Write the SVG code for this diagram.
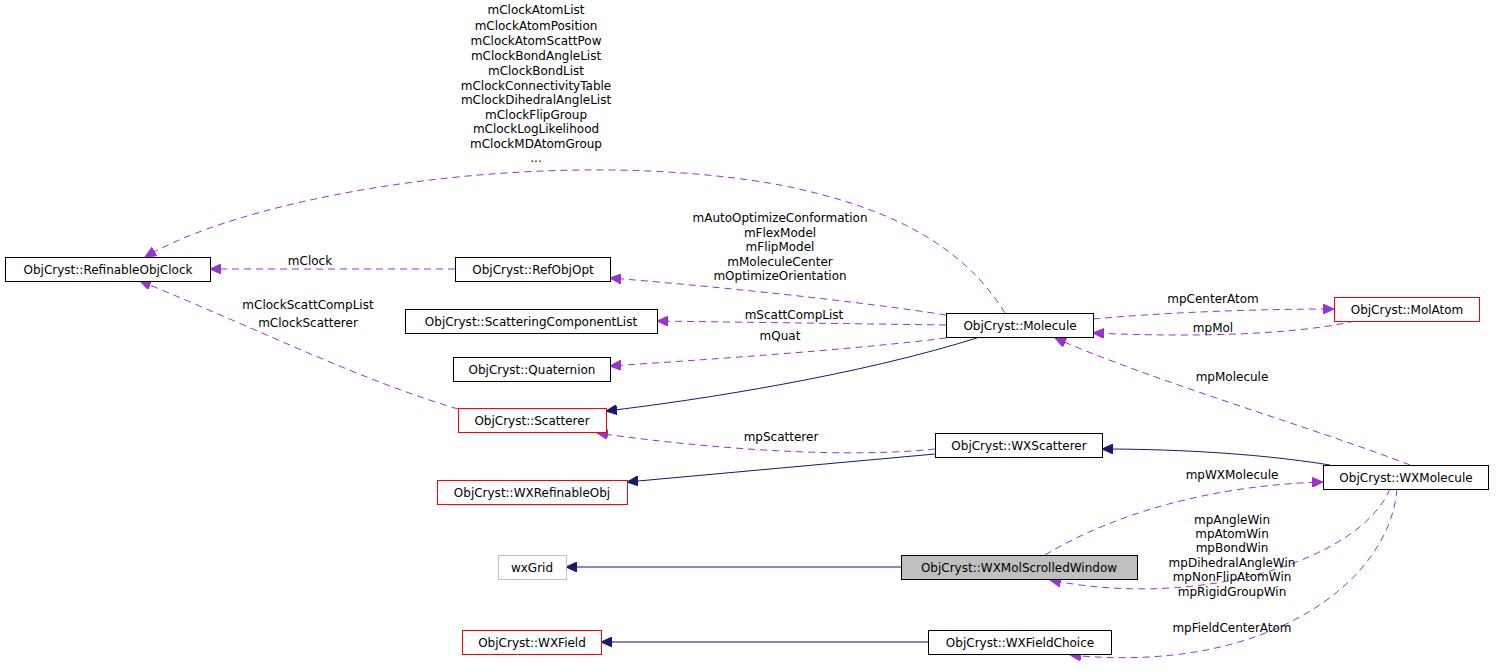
<svg xmlns="http://www.w3.org/2000/svg" width="1496" height="671" viewBox="0 0 1496 671">
<defs>
<style>
text{font-family:"DejaVu Sans",sans-serif;font-size:12px;fill:#000}
.n{fill:#fff;stroke:#000;stroke-width:1}
.r{fill:#fff;stroke:#f00;stroke-width:1}
.g{fill:#fff;stroke:#bfbfbf;stroke-width:1}
.s{fill:#bfbfbf;stroke:#000;stroke-width:1}
.d{fill:none;stroke:#9a32cd;stroke-dasharray:7,5;stroke-width:1}
.i{fill:none;stroke:#191970;stroke-width:1}
.l{text-anchor:middle}
</style>
<marker id="ap" markerWidth="12" markerHeight="10" refX="11" refY="5" orient="auto" markerUnits="userSpaceOnUse"><path d="M0,0 L11,5 L0,10 z" fill="#9a32cd" stroke="#9a32cd"/></marker>
<marker id="an" markerWidth="12" markerHeight="10" refX="11" refY="5" orient="auto" markerUnits="userSpaceOnUse"><path d="M0,0 L11,5 L0,10 z" fill="#191970" stroke="#191970"/></marker>
</defs>
<rect width="1496" height="671" fill="#fff"/>
<g id="connectors">
<path class="d" marker-end="url(#ap)" d="M1005,313 C960,240 880,205 780,185 C560,145 260,190 145,257"/>
<path class="d" marker-end="url(#ap)" d="M455,269 L210,269"/>
<path class="d" marker-end="url(#ap)" d="M458,409 C360,380 260,330 140,281"/>
<path class="d" marker-end="url(#ap)" d="M946,315 C850,300 700,285 610,278"/>
<path class="d" marker-end="url(#ap)" d="M946,325 L657,321"/>
<path class="d" marker-end="url(#ap)" d="M946,338 C850,350 700,360 610,366"/>
<path class="i" marker-end="url(#an)" d="M980,337 C860,375 700,400 606,411"/>
<path class="d" marker-end="url(#ap)" d="M1093,319 C1170,312 1260,309 1334,309"/>
<path class="d" marker-end="url(#ap)" d="M1355,321 C1280,338 1160,336 1093,333"/>
<path class="d" marker-end="url(#ap)" d="M1410,465 C1320,430 1150,380 1055,338"/>
<path class="d" marker-end="url(#ap)" d="M935,449 C830,460 680,445 597,433"/>
<path class="i" marker-end="url(#an)" d="M935,454 L627,482"/>
<path class="i" marker-end="url(#an)" d="M1330,465 C1250,452 1160,449 1102,449"/>
<path class="d" marker-end="url(#ap)" d="M1045,555 C1120,510 1220,485 1323,482"/>
<path class="d" marker-end="url(#ap)" d="M1390,489 C1360,560 1200,610 1050,580"/>
<path class="i" marker-end="url(#an)" d="M901,567 L566,567"/>
<path class="i" marker-end="url(#an)" d="M928,642 L601,642"/>
<path class="d" marker-end="url(#ap)" d="M1397,489 C1390,580 1270,675 1070,655"/>
</g>
<g id="labels">
<text class="l" x="536" y="14">mClockAtomList</text>
<text class="l" x="536" y="30">mClockAtomPosition</text>
<text class="l" x="536" y="45">mClockAtomScattPow</text>
<text class="l" x="536" y="60">mClockBondAngleList</text>
<text class="l" x="536" y="75">mClockBondList</text>
<text class="l" x="536" y="90">mClockConnectivityTable</text>
<text class="l" x="536" y="104">mClockDihedralAngleList</text>
<text class="l" x="536" y="119">mClockFlipGroup</text>
<text class="l" x="536" y="133">mClockLogLikelihood</text>
<text class="l" x="536" y="148">mClockMDAtomGroup</text>
<text class="l" x="536" y="162">...</text>
<text class="l" x="310" y="265">mClock</text>
<text class="l" x="308" y="309">mClockScattCompList</text>
<text class="l" x="308" y="327">mClockScatterer</text>
<text class="l" x="780" y="222">mAutoOptimizeConformation</text>
<text class="l" x="780" y="237">mFlexModel</text>
<text class="l" x="780" y="251">mFlipModel</text>
<text class="l" x="780" y="266">mMoleculeCenter</text>
<text class="l" x="780" y="280">mOptimizeOrientation</text>
<text class="l" x="794" y="319">mScattCompList</text>
<text class="l" x="780" y="340">mQuat</text>
<text class="l" x="1213" y="303">mpCenterAtom</text>
<text class="l" x="1213" y="332">mpMol</text>
<text class="l" x="1232" y="381">mpMolecule</text>
<text class="l" x="781" y="441">mpScatterer</text>
<text class="l" x="1232" y="479">mpWXMolecule</text>
<text class="l" x="1232" y="524">mpAngleWin</text>
<text class="l" x="1232" y="538">mpAtomWin</text>
<text class="l" x="1232" y="552">mpBondWin</text>
<text class="l" x="1232" y="567">mpDihedralAngleWin</text>
<text class="l" x="1232" y="581">mpNonFlipAtomWin</text>
<text class="l" x="1232" y="596">mpRigidGroupWin</text>
<text class="l" x="1232" y="632">mpFieldCenterAtom</text>
</g>
<g id="RefinableObjClock"><rect class="n" x="5.5" y="257.5" width="205" height="24"/><text class="l" x="108" y="274">ObjCryst::RefinableObjClock</text></g>
<g id="RefObjOpt"><rect class="n" x="455.5" y="257.5" width="155" height="24"/><text class="l" x="533" y="274">ObjCryst::RefObjOpt</text></g>
<g id="ScatteringComponentList"><rect class="n" x="405.5" y="309.5" width="252" height="24"/><text class="l" x="531" y="326">ObjCryst::ScatteringComponentList</text></g>
<g id="Quaternion"><rect class="n" x="453.5" y="357.5" width="157" height="24"/><text class="l" x="532" y="374">ObjCryst::Quaternion</text></g>
<g id="Scatterer"><rect class="r" x="458.5" y="408.5" width="148" height="24"/><text class="l" x="532" y="425">ObjCryst::Scatterer</text></g>
<g id="WXRefinableObj"><rect class="r" x="437.5" y="480.5" width="190" height="24"/><text class="l" x="532" y="497">ObjCryst::WXRefinableObj</text></g>
<g id="wxGrid"><rect class="g" x="498.5" y="555.5" width="68" height="24"/><text class="l" x="532" y="572">wxGrid</text></g>
<g id="WXField"><rect class="r" x="462.5" y="630.5" width="139" height="24"/><text class="l" x="532" y="647">ObjCryst::WXField</text></g>
<g id="Molecule"><rect class="n" x="946.5" y="313.5" width="147" height="24"/><text class="l" x="1020" y="330">ObjCryst::Molecule</text></g>
<g id="MolAtom"><rect class="r" x="1334.5" y="297.5" width="145" height="24"/><text class="l" x="1407" y="314">ObjCryst::MolAtom</text></g>
<g id="WXScatterer"><rect class="n" x="935.5" y="433.5" width="167" height="24"/><text class="l" x="1019" y="450">ObjCryst::WXScatterer</text></g>
<g id="WXMolecule"><rect class="n" x="1323.5" y="465.5" width="165" height="24"/><text class="l" x="1406" y="482">ObjCryst::WXMolecule</text></g>
<g id="WXMolScrolledWindow"><rect class="s" x="901.5" y="555.5" width="236" height="24"/><text class="l" x="1019" y="572">ObjCryst::WXMolScrolledWindow</text></g>
<g id="WXFieldChoice"><rect class="n" x="928.5" y="630.5" width="183" height="24"/><text class="l" x="1020" y="647">ObjCryst::WXFieldChoice</text></g>
</svg>
